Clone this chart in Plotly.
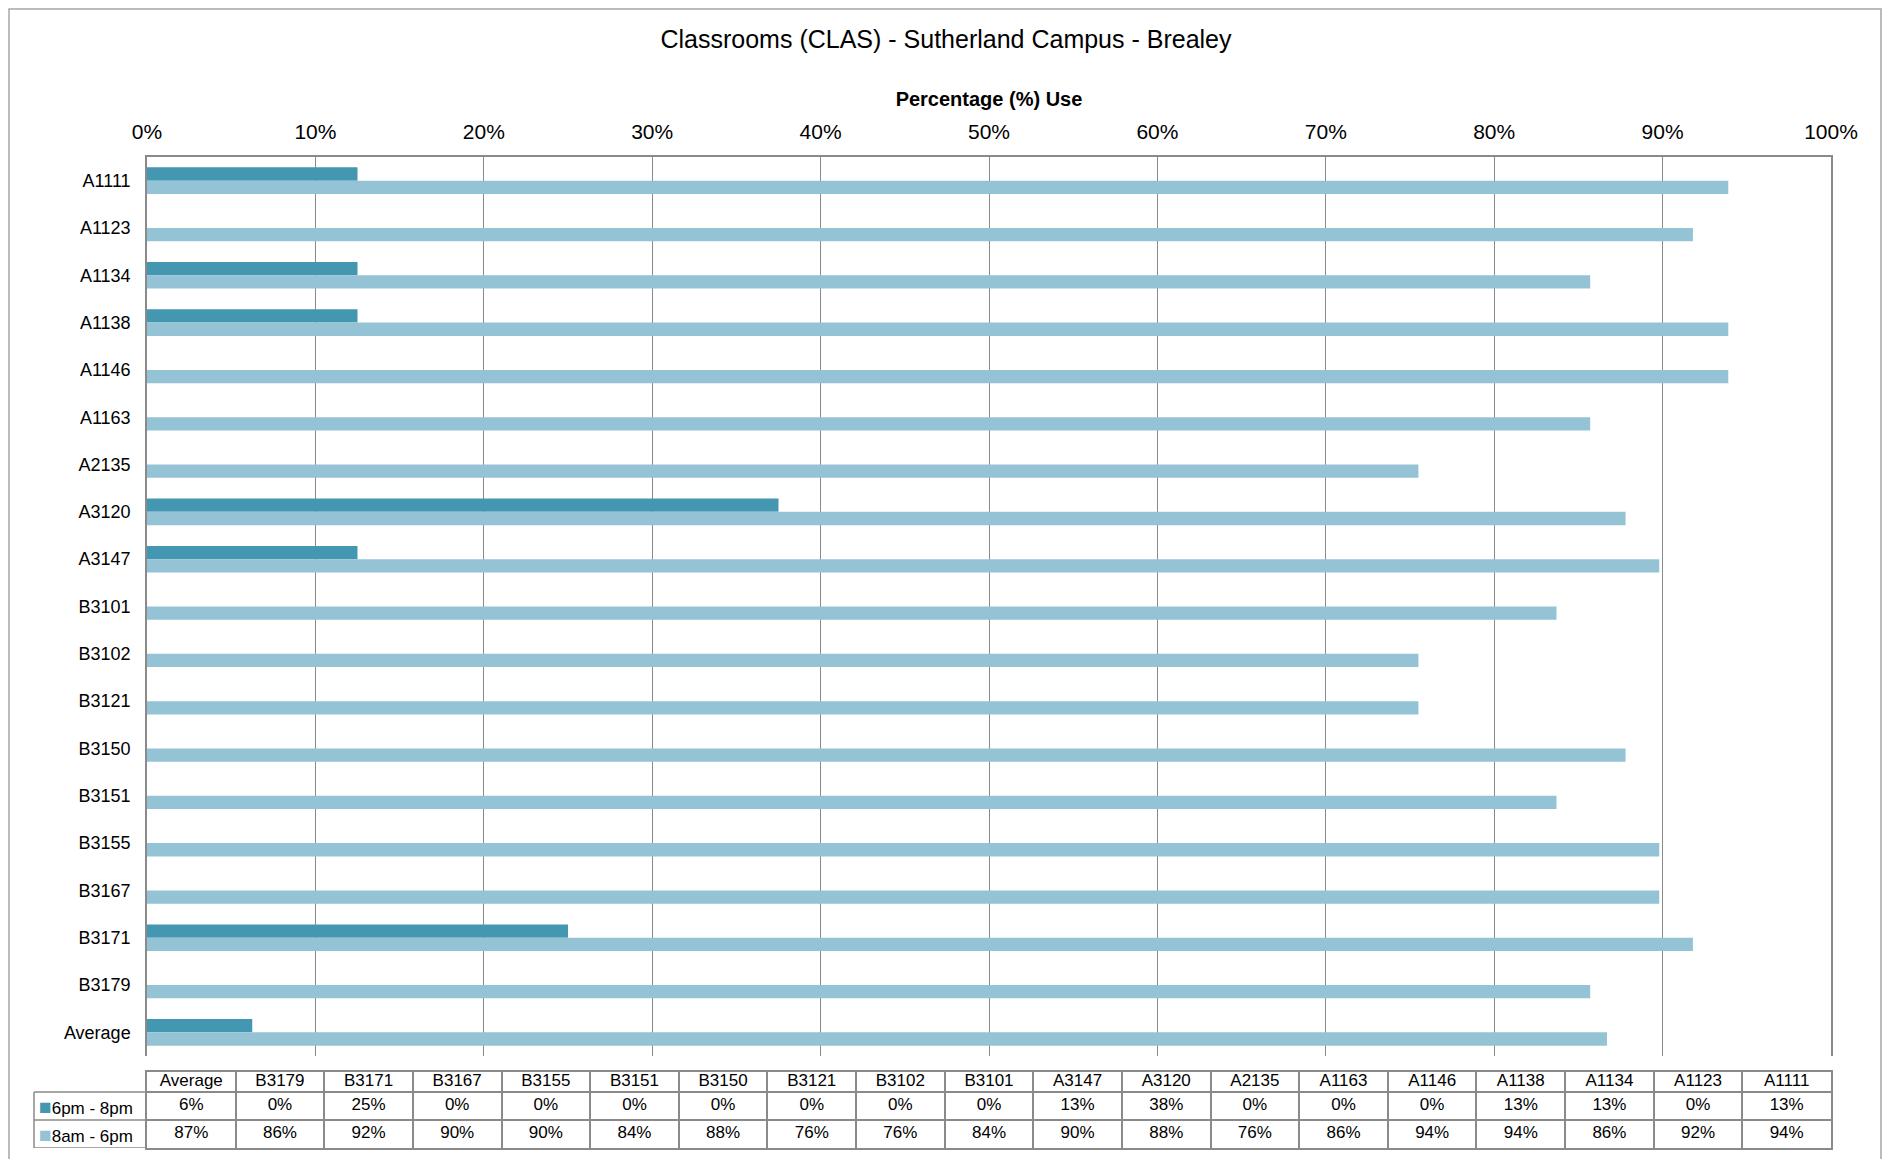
import plotly.graph_objects as go

# ---------------- data ----------------
rooms = ["A1111", "A1123", "A1134", "A1138", "A1146", "A1163", "A2135", "A3120", "A3147",
         "B3101", "B3102", "B3121", "B3150", "B3151", "B3155", "B3167", "B3171", "B3179", "Average"]
evening = [12.5, 0, 12.5, 12.5, 0, 0, 0, 37.5, 12.5,
           0, 0, 0, 0, 0, 0, 0, 25.0, 0, 6.25]
daytime = [93.9, 91.8, 85.7, 93.9, 93.9, 85.7, 75.5, 87.8, 89.8,
           83.7, 75.5, 75.5, 87.8, 83.7, 89.8, 89.8, 91.8, 85.7, 86.7]
series_names = ["6pm - 8pm", "8am - 6pm"]
x_ticks = [0, 10, 20, 30, 40, 50, 60, 70, 80, 90, 100]
x_tick_labels = ["0%", "10%", "20%", "30%", "40%", "50%", "60%", "70%", "80%", "90%", "100%"]

title_text = "Classrooms (CLAS) - Sutherland Campus - Brealey"
axis_title = "Percentage (%) Use"

# ---------------- style ----------------
PAGE_OFF = 8                      # default body margin of the html page
W, H = 1890 - 2 * PAGE_OFF, 1167 - 2 * PAGE_OFF
DARK = "#4397B0"
LIGHT = "#93C3D5"
GRID = "#8A8A8A"
FONT = "Liberation Sans, Arial, sans-serif"
TABLE_FONT = dict(family=FONT, size=17, color="black")


def px_x(p):
    return (p - PAGE_OFF) / W


def px_y(p):
    return 1 - (p - PAGE_OFF) / H


def pct(v):
    return f"{int(v + 0.5)}%"


fig = go.Figure()
fig.add_trace(go.Bar(y=rooms, x=evening, orientation="h", name=series_names[0],
                     marker=dict(color=DARK, line=dict(width=0)), hoverinfo="x+y"))
fig.add_trace(go.Bar(y=rooms, x=daytime, orientation="h", name=series_names[1],
                     marker=dict(color=LIGHT, line=dict(width=0)), hoverinfo="x+y"))

# ---------------- data table (own axes x2/y2) ----------------
tab_rooms = rooms[::-1]
tab_eve = evening[::-1]
tab_day = daytime[::-1]

# table row layout on the y2 axis (units = pixels of row height)
ROW_EDGES = [0, 20, 48, 76]
ROW_MID = [(a + b) / 2 for a, b in zip(ROW_EDGES[:-1], ROW_EDGES[1:])]
TAB_TOP_PX = 1072

row_texts = [tab_rooms, [pct(v) for v in tab_eve], [pct(v) for v in tab_day]]
for ymid, texts in zip(ROW_MID, row_texts):
    fig.add_trace(go.Scatter(x=tab_rooms, y=[ymid] * len(tab_rooms), text=texts,
                             mode="text", textfont=TABLE_FONT, xaxis="x2", yaxis="y2",
                             hoverinfo="skip", cliponaxis=False))

TAB_LEFT = px_x(34)
PLOT_L, PLOT_R = px_x(147), px_x(1831)

shapes = [dict(type="rect", xref="paper", yref="paper",
               x0=px_x(9), x1=px_x(1881), y0=px_y(1162), y1=px_y(9),
               line=dict(color="#A6A6A6", width=1.5), fillcolor="rgba(0,0,0,0)", layer="below")]
# legend column borders of the table
for yb in ROW_EDGES[1:]:
    shapes.append(dict(type="line", xref="paper", yref="y2", x0=TAB_LEFT, x1=PLOT_L, y0=yb, y1=yb,
                       line=dict(color=GRID, width=1.5)))
shapes.append(dict(type="line", xref="paper", yref="y2", x0=TAB_LEFT, x1=TAB_LEFT,
                   y0=ROW_EDGES[1], y1=ROW_EDGES[-1], line=dict(color=GRID, width=1.5)))

annotations = []
for name, col, ymid in zip(series_names, [DARK, LIGHT], ROW_MID[1:]):
    annotations.append(dict(xref="paper", yref="y2", x=TAB_LEFT + 3 / W, y=ymid,
                            xanchor="left", yanchor="middle", showarrow=False,
                            text=f"<span style='color:{col};font-size:21px'>■</span>{name}",
                            font=TABLE_FONT))

fig.update_layout(
    width=W, height=H,
    margin=dict(l=0, r=0, t=0, b=0, autoexpand=False),
    paper_bgcolor="white", plot_bgcolor="white",
    showlegend=False,
    barmode="group", bargap=0.4375, bargroupgap=0,
    font=dict(family=FONT, color="black"),
    title=dict(text=title_text, x=px_x(946), y=px_y(39), xanchor="center", yanchor="middle",
               xref="paper", yref="paper", font=dict(size=25, color="black", family=FONT)),
    xaxis=dict(domain=[PLOT_L, PLOT_R], range=[0, 100], side="top", anchor="y",
               tickmode="array", tickvals=x_ticks, ticktext=x_tick_labels,
               tickfont=dict(size=21), ticklabelstandoff=8, automargin=False,
               showgrid=True, gridcolor=GRID, gridwidth=1,
               showline=True, linecolor=GRID, linewidth=1.5, mirror=False,
               zeroline=False, fixedrange=True,
               title=dict(text=f"<b>{axis_title}</b>", font=dict(size=20), standoff=8)),
    yaxis=dict(domain=[px_y(1056), px_y(157)], type="category", anchor="x",
               categoryorder="array", categoryarray=rooms, autorange="reversed",
               tickfont=dict(size=18), ticklabelstandoff=11, automargin=False,
               showgrid=False, showline=True, linecolor=GRID, linewidth=1.5, mirror=True,
               fixedrange=True),
    xaxis2=dict(domain=[PLOT_L, PLOT_R], type="category", anchor="y2",
                categoryorder="array", categoryarray=tab_rooms, range=[-0.5, len(tab_rooms) - 0.5],
                tickson="boundaries", showticklabels=False, ticks="",
                showgrid=True, gridcolor=GRID, gridwidth=1.5,
                showline=True, linecolor=GRID, linewidth=1.5, mirror=True,
                zeroline=False, automargin=False, fixedrange=True),
    yaxis2=dict(domain=[px_y(TAB_TOP_PX + ROW_EDGES[-1]), px_y(TAB_TOP_PX)], anchor="x2",
                range=[ROW_EDGES[-1], ROW_EDGES[0]],
                tickmode="array", tickvals=ROW_EDGES[1:-1], showticklabels=False, ticks="",
                showgrid=True, gridcolor=GRID, gridwidth=1.5,
                showline=True, linecolor=GRID, linewidth=1.5, mirror=True,
                zeroline=False, automargin=False, fixedrange=True),
    shapes=shapes,
    annotations=annotations,
)

fig.write_html("out.html")
